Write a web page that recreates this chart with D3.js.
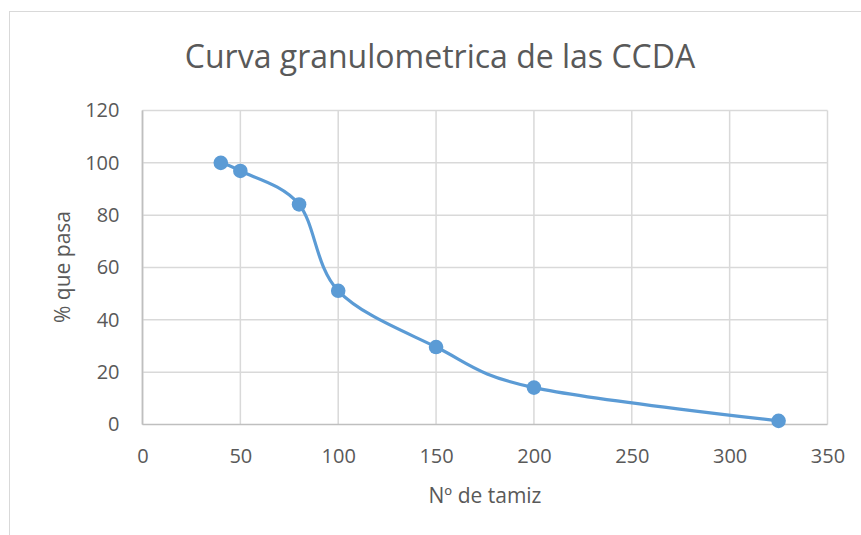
<!DOCTYPE html>
<html><head><meta charset="utf-8">
<script src="https://cdn.jsdelivr.net/npm/d3@7"></script>
<style>body{margin:0;background:#fff}text{font-family:"Open Sans",sans-serif;fill:#595959}</style>
</head><body><svg id="c" width="861" height="535"></svg>
<script>
const tamiz = [40, 50, 80, 100, 150, 200, 325];
const pasa = [100, 96.9, 84.1, 51.1, 29.6, 14.1, 1.4];
const xTicks = [0, 50, 100, 150, 200, 250, 300, 350];
const yTicks = [0, 20, 40, 60, 80, 100, 120];
const title = "Curva granulometrica de las CCDA";
const xTitle = "Nº de tamiz";
const yTitle = "% que pasa";

const svg = d3.select("#c");
svg.append("rect").attr("x",9.5).attr("y",11.5).attr("width",870).attr("height",540)
  .attr("fill","none").attr("stroke","#d9d9d9");
const x = d3.scaleLinear().domain([0,350]).range([142.5,827.5]);
const y = d3.scaleLinear().domain([0,120]).range([424.5,110.5]);

const g = svg.append("g");
g.selectAll(".vg").data(xTicks).enter().append("line")
  .attr("x1",d=>x(d)).attr("x2",d=>x(d)).attr("y1",y(120)).attr("y2",y(0))
  .attr("stroke",d=>d===0?"#bfbfbf":"#d9d9d9").attr("stroke-width",1.5);
g.selectAll(".hg").data(yTicks).enter().append("line")
  .attr("x1",x(0)).attr("x2",x(350)).attr("y1",d=>y(d)).attr("y2",d=>y(d))
  .attr("stroke",d=>d===0?"#bfbfbf":"#d9d9d9").attr("stroke-width",1.5);
g.append("line").attr("x1",x(0)).attr("x2",x(0)).attr("y1",y(120)).attr("y2",y(0)).attr("stroke","#bfbfbf").attr("stroke-width",1.5);

const xa = svg.append("g").attr("transform",`translate(0,${y(0)})`)
  .call(d3.axisBottom(x).tickValues(xTicks).tickSize(0).tickPadding(24));
xa.select(".domain").remove();
xa.selectAll("text").attr("font-size",20).attr("font-family","Open Sans").attr("fill","#595959");
const ya = svg.append("g").attr("transform",`translate(${x(0)},0)`)
  .call(d3.axisLeft(y).tickValues(yTicks).tickSize(0).tickPadding(23));
ya.select(".domain").remove();
ya.selectAll("text").attr("font-size",20).attr("font-family","Open Sans").attr("fill","#595959");

svg.append("text").attr("x",440).attr("y",68).attr("text-anchor","middle").attr("font-size",32).text(title);
svg.append("text").attr("x",485).attr("y",503).attr("text-anchor","middle").attr("font-size",21).text(xTitle);
svg.append("text").attr("transform","translate(70,267) rotate(-90)").attr("text-anchor","middle").attr("font-size",21).text(yTitle);

const data = tamiz.map((t,i)=>({t, p:pasa[i]}));
svg.append("path").datum(data)
  .attr("d", d3.line().x(d=>x(d.t)).y(d=>y(d.p)).curve(d3.curveCatmullRom.alpha(0)))
  .attr("fill","none").attr("stroke","#5b9bd5").attr("stroke-width",3.2).attr("stroke-linecap","round");
svg.selectAll(".pt").data(data).enter().append("circle")
  .attr("cx",d=>x(d.t)).attr("cy",d=>y(d.p)).attr("r",7.3).attr("fill","#5b9bd5");
</script></body></html>
